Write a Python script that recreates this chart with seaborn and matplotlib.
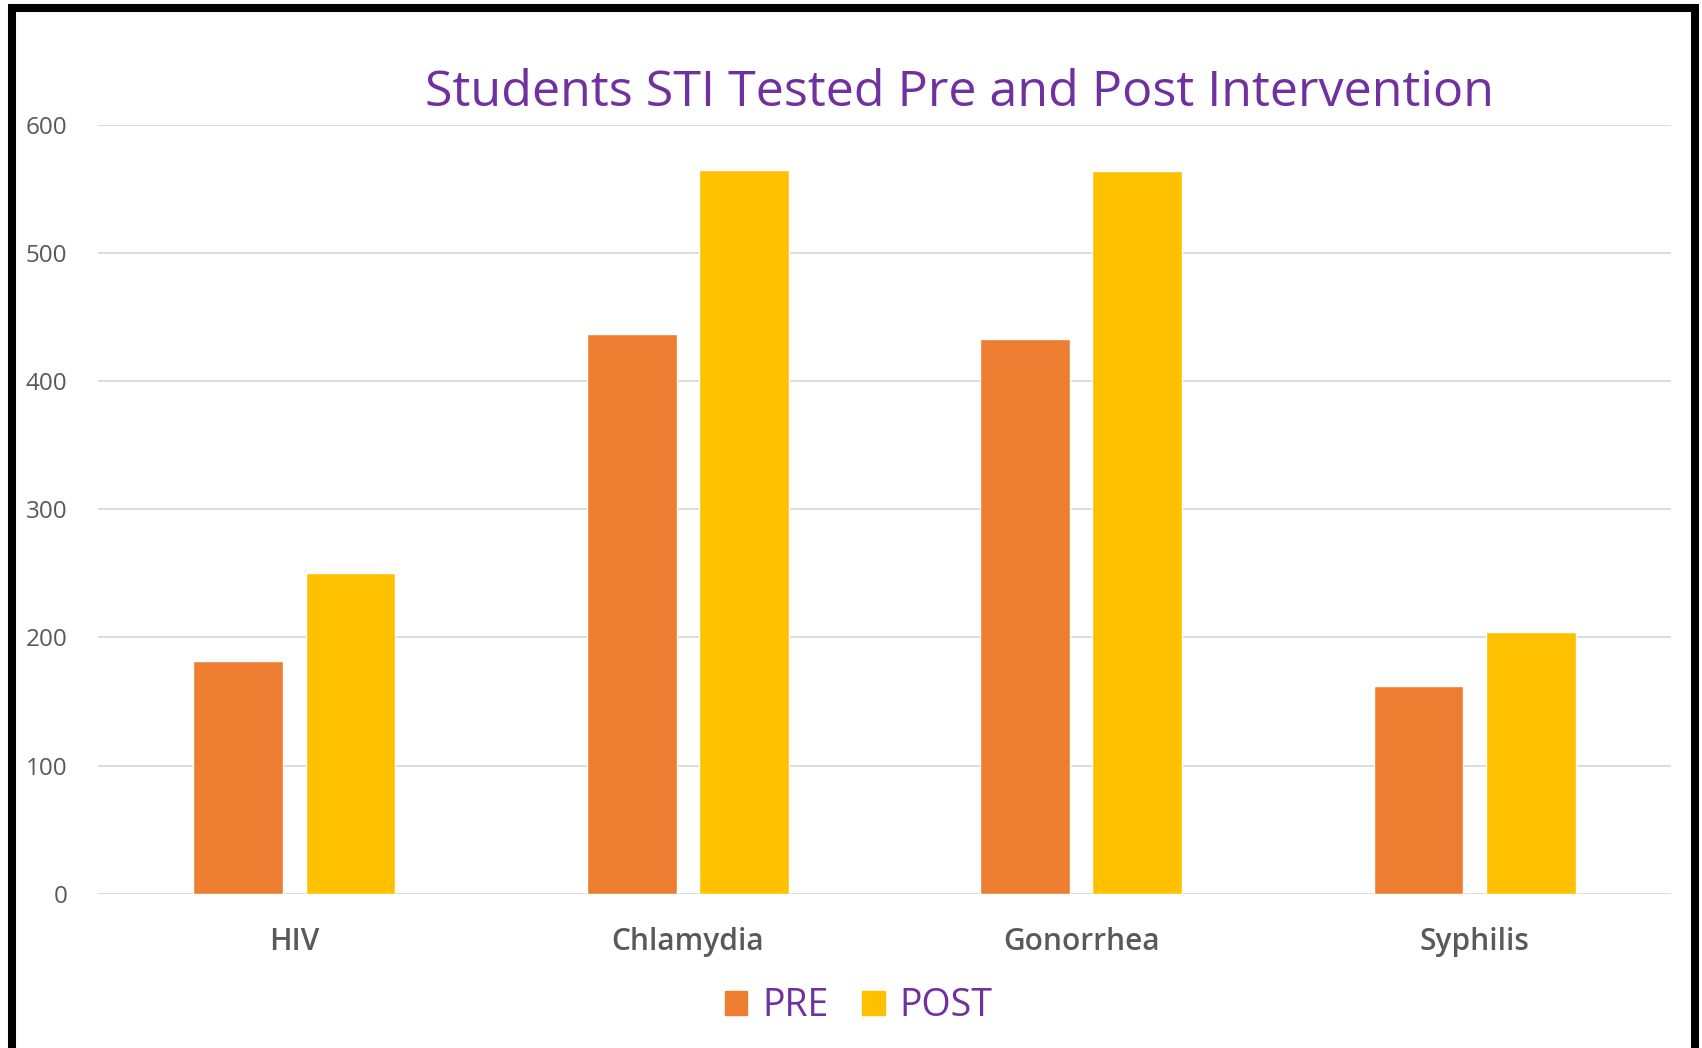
import matplotlib
matplotlib.use("Agg")
import matplotlib.pyplot as plt
from matplotlib.patches import Rectangle
import pandas as pd
import seaborn as sns

categories = ["HIV", "Chlamydia", "Gonorrhea", "Syphilis"]
pre_values = [182, 437, 433, 162]
post_values = [250, 565, 564, 204]
y_ticks = [0, 100, 200, 300, 400, 500, 600]

df = pd.DataFrame({
    "Disease": categories * 2,
    "Count": pre_values + post_values,
    "Phase": ["PRE"] * len(categories) + ["POST"] * len(categories),
})

sns.set_theme(style="white")
plt.rcParams["font.family"] = ["Open Sans", "DejaVu Sans"]

fig = plt.figure(figsize=(17.02, 10.48), dpi=100)
ax = fig.add_axes([0.0574, 0.1472, 0.9246, 0.7336])

sns.barplot(data=df, x="Disease", y="Count", hue="Phase",
            palette={"PRE": "#ED7D31", "POST": "#FFC000"},
            width=0.57, gap=0.2, ax=ax, legend=False, saturation=1)

ax.set_xlim(-0.5, 3.5)
ax.set_ylim(0, 600)
ax.set_yticks(y_ticks)
ax.yaxis.grid(True, color="#D9D9D9", linewidth=1.3)
ax.set_axisbelow(True)
for s in ["top", "right", "left", "bottom"]:
    ax.spines[s].set_visible(False)
ax.tick_params(axis="y", length=0, labelsize=17.5, labelcolor="#595959", pad=22)
ax.tick_params(axis="x", length=0, labelsize=21.5, labelcolor="#595959", pad=24)
for lbl in ax.get_xticklabels():
    lbl.set_fontweight("semibold")
ax.set_xlabel("")
ax.set_ylabel("")

fig.text(0.564, 0.911, "Students STI Tested Pre and Post Intervention",
         ha="center", va="center", fontsize=36.2, color="#7030A0")

# legend
handles = [plt.Rectangle((0, 0), 1, 1, color="#ED7D31"),
           plt.Rectangle((0, 0), 1, 1, color="#FFC000")]
fig.legend(handles, ["PRE", "POST"], loc="center", bbox_to_anchor=(0.5045, 0.04),
           ncol=2, frameon=False, fontsize=27, labelcolor="#7030A0",
           handlelength=0.6, handleheight=0.6, handletextpad=0.4, columnspacing=0.9)

# black frame around the picture
fig.patches.append(Rectangle((0.00676, -0.003), 0.98914, 0.9954,
                             transform=fig.transFigure, fill=False,
                             edgecolor="black", linewidth=5.8))

fig.savefig("out.png", dpi=100, facecolor="white")
